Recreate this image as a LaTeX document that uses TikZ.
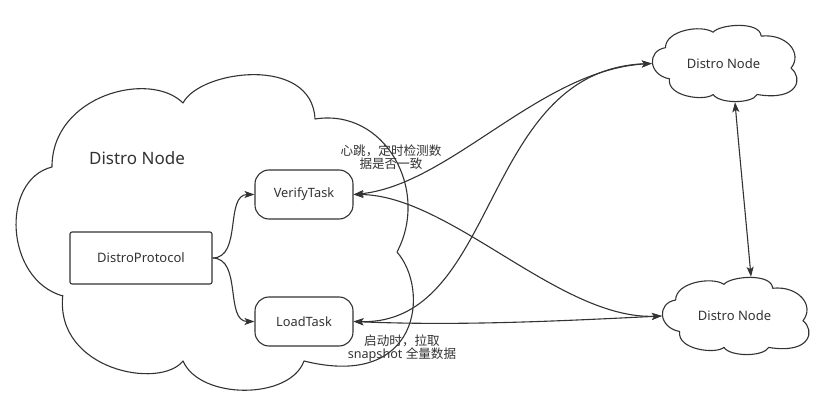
\documentclass[tikz,border=0pt]{standalone}
\usepackage{fontspec}
\setmainfont{Noto Sans}
\newfontfamily\cjk{Noto Sans CJK SC}
\usetikzlibrary{arrows.meta}
\definecolor{ink}{HTML}{333333}
\begin{document}
\begin{tikzpicture}[x=1pt,y=-1pt,
  cloudline/.style={draw=ink, line width=1.1pt, line join=round},
  txt/.style={text=ink, inner sep=0pt},
  rectbox/.style={draw=ink, line width=1.1pt, rounded corners=2pt, minimum width=142pt, minimum height=52pt, text=ink, font=\fontsize{13}{15}\selectfont},
  taskbox/.style={draw=ink, line width=1.1pt, rounded corners=14pt, minimum width=98pt, minimum height=49pt, text=ink, font=\fontsize{12.8}{15}\selectfont},
  cloudlabel/.style={text=ink, font=\fontsize{13}{15}\selectfont},
  lbl/.style={text=ink, align=center, inner sep=0pt, font=\fontsize{12.6}{13.6}\selectfont},
  conn/.style={draw=ink, line width=1.1pt, -{Stealth[length=10pt,width=7pt,inset=2.5pt]}},
  conntwo/.style={draw=ink, line width=1.1pt, {Stealth[length=10pt,width=7pt,inset=2.5pt]}-{Stealth[length=10pt,width=7pt,inset=2.5pt]}}
]
\useasboundingbox (0,0) rectangle (825,406);
\fill[white] (0,0) rectangle (825,406);

% cloud outlines (same shape, stretched)
\foreach \X/\Y/\W/\H in {15/73/393/319, 652/25/143/77, 662/277/145/78}{
  \begin{scope}[shift={(\X,\Y)}, xscale=\W, yscale=\H]
    \path[cloudline] (0.1221,0.6991)
      .. controls (-0.0254,0.6489) and (-0.0382,0.3354) .. (0.0941,0.2947)
      .. controls (0.0941,0.0690) and (0.3435,-0.0094) .. (0.4275,0.0940)
      .. controls (0.4707,-0.0094) and (0.7557,-0.0564) .. (0.7634,0.1442)
      .. controls (0.9415,0.1097) and (1.0560,0.3668) .. (0.9720,0.5611)
      .. controls (1.0560,0.6803) and (1.0305,0.9937) .. (0.7354,0.9028)
      .. controls (0.6997,1.0251) and (0.4707,1.0251) .. (0.4275,0.9028)
      .. controls (0.3690,0.9937) and (0.1018,0.9310) .. cycle;
  \end{scope}
}

% nodes
\node[txt, font=\fontsize{17}{20}\selectfont] (bigtitle) at (137,158) {Distro Node};
\node[rectbox] (proto) at (141,258) {DistroProtocol};
\node[taskbox] (verify) at (304,194.5) {VerifyTask};
\node[taskbox] (load) at (304,321.5) {LoadTask};
\node[cloudlabel, minimum width=143pt, minimum height=77pt] (topcloud) at (723.5,63.5) {Distro Node};
\node[cloudlabel, minimum width=145pt, minimum height=78pt] (botcloud) at (734.5,316) {Distro Node};

% labels
\node[lbl] (hblabel) at (391,157) {{\cjk 心跳，定时检测数}\\{\cjk 据是否一致}};
\node[lbl] (snaplabel) at (402,348) {{\cjk 启动时，拉取}\\snapshot {\cjk 全量数据}};

% connectors
\draw[conn] (proto.east) to[out=0,in=180] (verify.west);
\draw[conn] (proto.east) to[out=0,in=180] (load.west);
\draw[conntwo] (verify.east) .. controls (450,185) and (540,70) .. (topcloud.west);
\draw[conntwo] (load.east) .. controls (500,325) and (480,70) .. (topcloud.west);
\draw[conntwo] (verify.east) .. controls (450,195) and (560,320) .. (botcloud.west);
\draw[conntwo] (load.east) .. controls (460,326) and (560,321) .. (botcloud.west);
\draw[conntwo] ([xshift=11.5pt]topcloud.south) .. controls (740,160) and (746,220) .. ([xshift=16.5pt]botcloud.north);
\end{tikzpicture}
\end{document}
